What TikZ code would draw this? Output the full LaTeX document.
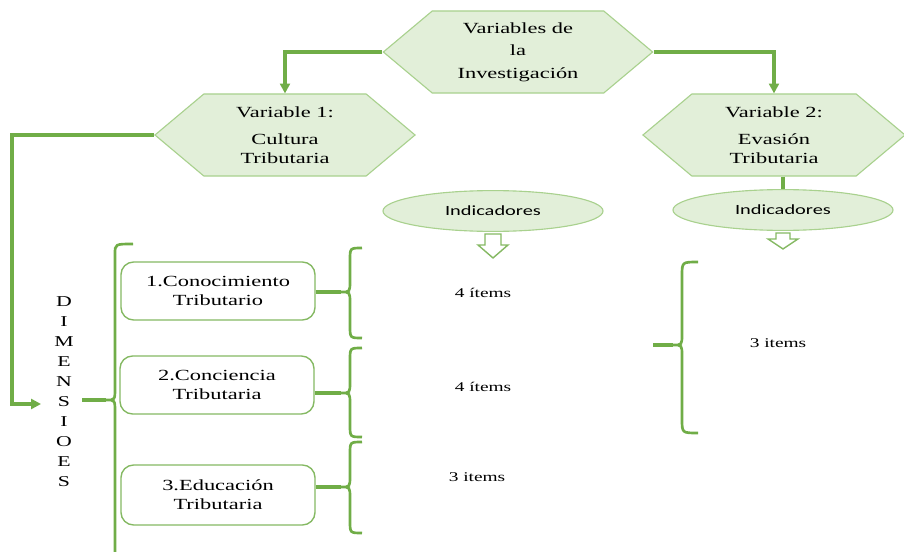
\documentclass[tikz,border=0pt]{standalone}
\usepackage{fontspec}
\setmainfont{Liberation Serif}[FakeStretch=1.45]
\newfontfamily\indfont{Carlito}[FakeStretch=1.45]
\usetikzlibrary{shapes.symbols,shapes.geometric,arrows.meta}
\definecolor{verde}{HTML}{70AD47}
\definecolor{verdeclaro}{HTML}{E2EFD9}
\definecolor{verdeborde}{HTML}{A9D18E}

\begin{document}
\begin{tikzpicture}[x=0.025cm, y=-0.025cm, >={Triangle[length=7pt,width=7pt]}]
        \tikzstyle{hexa} = [signal, signal to=west and east, signal pointer angle=80, draw=verdeborde, fill=verdeclaro, line width=0.8pt, align=center, inner sep=0pt, minimum height=2.05cm]
        \tikzstyle{ind} = [ellipse, draw=verdeborde, fill=verdeclaro, line width=0.8pt, minimum width=5.5cm, minimum height=1.02cm, font=\indfont\fontsize{10}{12}\selectfont]
        \tikzstyle{dimbox} = [rectangle, rounded corners=9pt, draw=verde!85, line width=1pt, fill=white, minimum width=4.85cm, minimum height=1.45cm, align=center, font=\fontsize{11}{13.5}\selectfont]
        \tikzstyle{item} = [font=\fontsize{9.5}{11}\selectfont]
        \tikzstyle{link} = [verde, line width=2.3pt]
        \tikzstyle{brc} = [verde, line width=1.9pt]
        \tikzstyle{hueca} = [draw=verde!85, line width=1pt, fill=white]
        \useasboundingbox (0,0) rectangle (904,552);
        % variables
        \node [hexa, minimum width=6.73cm, font=\fontsize{11}{16}\selectfont] (var) at (518,52) {Variables de\\la\\Investigación};
        \node [hexa, minimum width=6.5cm, font=\fontsize{11}{13.5}\selectfont] (v1) at (285,135) {Variable 1:\\[6pt]Cultura\\Tributaria};
        \node [hexa, minimum width=6.55cm, font=\fontsize{11}{13.5}\selectfont] (v2) at (774,135) {Variable 2:\\[6pt]Evasión\\Tributaria};
        \draw [link,->] (var.west) -| (v1.north); \draw [link,->] (var.east) -| (v2.north);
        % indicadores
        \node [ind] (indL) at (493,211) {Indicadores};
        \node [ind] (indR) at (783,210) {Indicadores};
        \draw [link, line width=3pt] (indR.north |- v2.south) -- (indR.north);
        \draw [hueca] (indL.south) ++(-8,2) -- ++(16,0) -- ++(0,11) -- ++(7,0) -- ++(-15,13) -- ++(-15,-13) -- ++(7,0) -- cycle;
        \draw [hueca] (indR.south) ++(-7,2) -- ++(14,0) -- ++(0,6) -- ++(8,0) -- ++(-15,10) -- ++(-15,-10) -- ++(8,0) -- cycle;
        % dimensiones
        \node [align=center, font=\fontsize{10.7}{14.2}\selectfont] (dim) at (64,392) {D\\I\\M\\E\\N\\S\\I\\O\\E\\S};
        \coordinate (dimin) at (41,404);
        \draw [link,->] (v1.west) -- ++(-142,0) |- (dimin);
        \coordinate (lt) at (106,400);
        \draw [brc] (133,244) .. controls (115,244) .. (115,254) -- (115,388) .. controls (115,400) .. (lt) .. controls (115,400) .. (115,412) -- (115,556);
        \draw [link] (lt) -- ++(-24,0);
        \node [dimbox] (d1) at (218,291) {1.Conocimiento\\Tributario};
        \node [dimbox] (d2) at (217,385) {2.Conciencia\\Tributaria};
        \node [dimbox, minimum height=1.5cm] (d3) at (218,495) {3.Educación\\Tributaria};
        % llaves
        \coordinate (t1) at (341,292); \coordinate (t2) at (341,393); \coordinate (t3) at (341,487);
        \draw [brc] (362,248) .. controls (350,248) .. (350,260) -- (350,281) .. controls (350,292) .. (t1) .. controls (350,292) .. (350,303) -- (350,326) .. controls (350,338) .. (362,338);
        \draw [brc] (362,348) .. controls (350,348) .. (350,360) -- (350,382) .. controls (350,393) .. (t2) .. controls (350,393) .. (350,404) -- (350,425) .. controls (350,437) .. (362,437);
        \draw [brc] (362,442) .. controls (350,442) .. (350,454) -- (350,476) .. controls (350,487) .. (t3) .. controls (350,487) .. (350,498) -- (350,521) .. controls (350,533) .. (362,533);
        \draw [link] (d1.east |- t1) -- (t1); \draw [link] (d2.east |- t2) -- (t2); \draw [link] (d3.east |- t3) -- (t3);
        \coordinate (t4) at (673,345);
        \draw [brc] (698,262) .. controls (682,262) .. (682,276) -- (682,334) .. controls (682,345) .. (t4) .. controls (682,345) .. (682,356) -- (682,419) .. controls (682,433) .. (698,433);
        \draw [link] (t4) -- ++(-20,0);
        % items
        \node [item] (i1) at (483,293) {4 ítems};
        \node [item] (i2) at (483,387) {4 ítems};
        \node [item] (i3) at (477,477) {3 items};
        \node [item] (i4) at (778,343) {3 items};
\end{tikzpicture}
\end{document}
